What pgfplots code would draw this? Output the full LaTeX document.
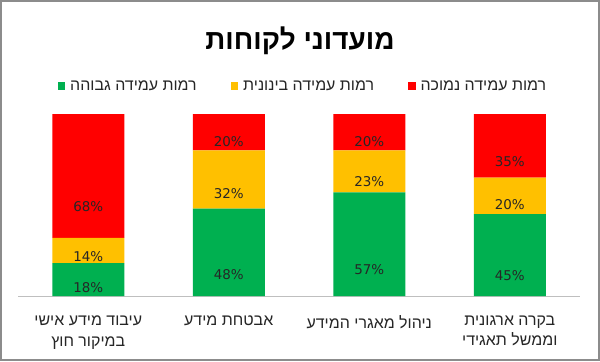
\documentclass[border=0pt]{standalone}
\usepackage{pgfplots}
\pgfplotsset{compat=1.18}
\usepackage{fontspec}
\setmainfont{Liberation Sans}
\newfontfamily\hebfont[Script=Hebrew]{Liberation Sans}
\newfontfamily\numfont{DejaVu Sans}
\TeXXeTstate=1
\definecolor{cgreen}{HTML}{00B050}
\definecolor{cyellow}{HTML}{FFC000}
\definecolor{cred}{HTML}{FF0000}
\definecolor{framec}{HTML}{8C8C8C}
\definecolor{axisline}{HTML}{BFBFBF}
\definecolor{txt}{HTML}{262626}
\pgfplotsset{
  calculate offset/.code={%
    \pgfkeys{/pgf/fpu=true,/pgf/fpu/output format=fixed}%
    \pgfmathsetmacro\halfoff{\pgfplotspointmeta*0.455}%
    \pgfkeys{/pgf/fpu=false}%
  },
}
\begin{document}
\begin{tikzpicture}[x=1bp,y=1bp]
\fill[white] (0,0) rectangle (600,361);
\draw[framec, line width=2bp] (1,1) rectangle (599,360);
\node[font=\hebfont\fontsize{28}{32}\selectfont\bfseries, text=black] at (300,320) {\beginR מועדוני לקוחות\endR};
\begin{axis}[
  at={(18bp,65bp)}, anchor=south west,
  width=562bp, height=182bp, scale only axis,
  xmin=-0.5, xmax=3.5, ymin=0, ymax=100,
  ybar stacked, bar width=72bp,
  axis x line*=bottom, axis y line=none,
  x axis line style={axisline, line width=1bp, -},
  xtick={0,1,2,3},
  xticklabels={{\beginR עיבוד מידע אישי\endR\\\beginR במיקור חוץ\endR},{\beginR אבטחת מידע\endR},{\beginR ניהול מאגרי המידע\endR},{\beginR בקרה ארגונית\endR\\\beginR וממשל תאגידי\endR}},
  xtick style={draw=none},
  xticklabel style={font=\hebfont\fontsize{16}{21}\selectfont, align=center, text=txt, anchor=north, yshift=-16bp},
  /pgf/number format/assume math mode=true,
  nodes near coords={\pgfmathprintnumber{\pgfplotspointmeta}\%},
  every node near coord/.append style={/pgfplots/calculate offset, anchor=center, yshift=-\halfoff bp, font=\numfont\fontsize{13.5}{16}\selectfont, text=txt},
  legend style={at={(0.507,1.154)}, anchor=center, draw=none, fill=none,
    legend columns=3, font=\hebfont\fontsize{16}{19}\selectfont, text=txt,
    /tikz/every odd column/.append style={column sep=3bp},
    /tikz/every even column/.append style={column sep=32bp}},
  legend image code/.code={\fill[#1] (0bp,-3.75bp) rectangle (7.5bp,3.75bp);},
]
\addplot[fill=cgreen, draw=none] coordinates {(0,18) (1,48) (2,57) (3,45)};
\addlegendentry{\beginR רמות עמידה גבוהה\endR}
\addplot[fill=cyellow, draw=none] coordinates {(0,14) (1,32) (2,23) (3,20)};
\addlegendentry{\beginR רמות עמידה בינונית\endR}
\addplot[fill=cred, draw=none] coordinates {(0,68) (1,20) (2,20) (3,35)};
\addlegendentry{\beginR רמות עמידה נמוכה\endR}
\end{axis}
\end{tikzpicture}
\end{document}
